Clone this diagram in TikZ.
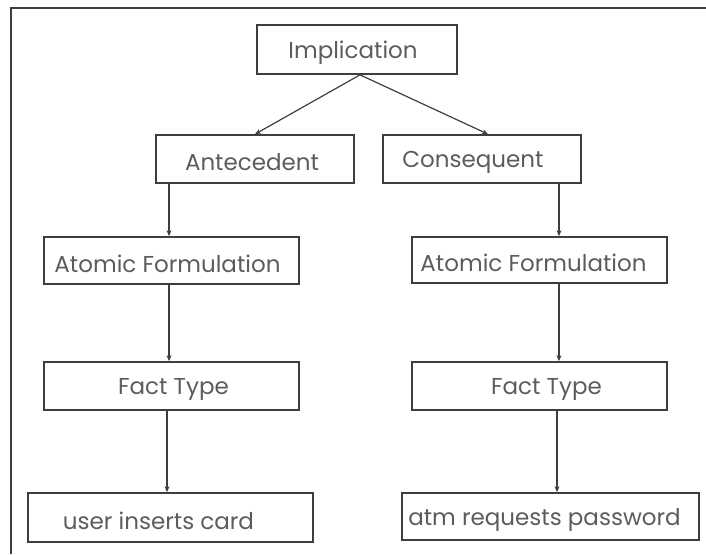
\documentclass[tikz,border=0pt]{standalone}
\usepackage{fontspec}
\setmainfont{Poppins}
\usetikzlibrary{arrows.meta}
\definecolor{linegray}{HTML}{3E3E3E}
\definecolor{textgray}{HTML}{5C5C5C}
\begin{document}
\begin{tikzpicture}[x=1pt,y=-1pt,
  box/.style={draw=linegray, line width=1.7pt, rectangle, inner sep=0pt},
  txt/.style={text=textgray, font=\fontsize{23}{26}\selectfont, inner sep=0pt, anchor=base, yshift=-3pt},
  link/.style={draw=linegray, line width=1.2pt, -{Stealth[length=6pt,width=5pt]}}]
\useasboundingbox (0,0) rectangle (706,554);
% frame (top and left edges)
\draw[linegray, line width=2.5pt] (706,8) -- (11,8) -- (11,554);
% boxes
\node[box, minimum width=200pt, minimum height=49pt, label={[txt, xshift=-4pt]center:Implication}] (impl) at (357,49.5) {};
\node[box, minimum width=198pt, minimum height=48pt, label={[txt, xshift=-3pt]center:Antecedent}] (ante) at (255,159) {};
\node[box, minimum width=198pt, minimum height=48pt, label={[txt, xshift=-9pt]center:Consequent}] (cons) at (482,159) {};
\node[box, minimum width=255pt, minimum height=47pt, label={[txt, xshift=-4pt]center:Atomic Formulation}] (afL) at (171.5,260.5) {};
\node[box, minimum width=255pt, minimum height=46pt, label={[txt, xshift=-6pt]center:Atomic Formulation}] (afR) at (539.5,260) {};
\node[box, minimum width=255pt, minimum height=48pt, label={[txt, xshift=2pt]center:Fact Type}] (ftL) at (171.5,386) {};
\node[box, minimum width=255pt, minimum height=48pt, label={[txt, xshift=7pt]center:Fact Type}] (ftR) at (539.5,386) {};
\node[box, minimum width=285pt, minimum height=49pt, label={[txt, xshift=-12pt]center:user inserts card}] (ucL) at (170.5,517.5) {};
\node[box, minimum width=297pt, minimum height=47pt, label={[txt, xshift=-6pt]center:atm requests password}] (atm) at (550.5,516.5) {};
% connectors
\draw[link] ([xshift=3pt]impl.south) -- (ante.north);
\draw[link] ([xshift=3pt]impl.south) -- ([xshift=6pt]cons.north);
\draw[link] ([xshift=-86pt]ante.south) -- ([xshift=-2.5pt]afL.north);
\draw[link] ([xshift=77pt]cons.south) -- ([xshift=19.5pt]afR.north);
\draw[link] ([xshift=-2.5pt]afL.south) -- ([xshift=-2.5pt]ftL.north);
\draw[link] ([xshift=19.5pt]afR.south) -- ([xshift=19.5pt]ftR.north);
\draw[link] ([xshift=-4.5pt]ftL.south) -- ([xshift=-3.5pt]ucL.north);
\draw[link] ([xshift=17.5pt]ftR.south) -- ([xshift=6.5pt]atm.north);
\end{tikzpicture}
\end{document}
